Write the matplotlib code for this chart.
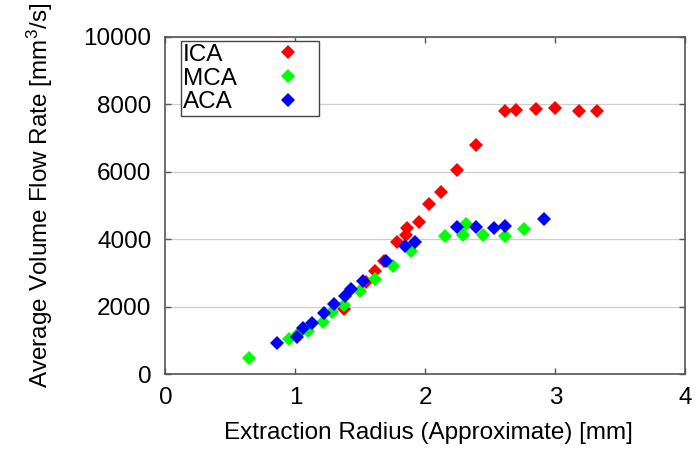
import matplotlib
matplotlib.use("Agg")
import matplotlib.pyplot as plt

plt.rcParams['font.family'] = ['Liberation Sans', 'DejaVu Sans']
plt.rcParams['mathtext.default'] = 'regular'

ica_x = [1.37, 1.54, 1.61, 1.68, 1.78, 1.85, 1.86, 1.95, 2.03, 2.12, 2.24, 2.39, 2.61, 2.70, 2.85, 3.00, 3.18, 3.32]
ica_y = [1950, 2740, 3060, 3360, 3930, 4130, 4340, 4520, 5050, 5410, 6050, 6800, 7810, 7850, 7860, 7880, 7800, 7800]

mca_x = [0.64, 0.95, 1.02, 1.10, 1.21, 1.28, 1.37, 1.50, 1.61, 1.75, 1.89, 2.15, 2.29, 2.31, 2.44, 2.61, 2.76]
mca_y = [490, 1050, 1190, 1280, 1560, 1850, 2050, 2460, 2815, 3210, 3650, 4110, 4130, 4450, 4140, 4110, 4300]

aca_x = [0.86, 1.01, 1.06, 1.13, 1.22, 1.30, 1.38, 1.43, 1.52, 1.70, 1.84, 1.92, 2.24, 2.39, 2.53, 2.61, 2.91]
aca_y = [920, 1100, 1380, 1510, 1810, 2080, 2320, 2520, 2760, 3350, 3790, 3920, 4360, 4360, 4330, 4400, 4600]

x_ticks = [0, 1, 2, 3, 4]
y_ticks = [0, 2000, 4000, 6000, 8000, 10000]

FS = 17.5
DPI = 100

fig = plt.figure(figsize=(6.98, 4.51), dpi=DPI)
ax = fig.add_axes([0.237, 0.170, 0.745, 0.748])

ms = 7
ax.plot(ica_x, ica_y, ls='none', marker='D', ms=ms, mew=0, color='#ff0000', label='ICA', zorder=3)
ax.plot(mca_x, mca_y, ls='none', marker='D', ms=ms, mew=0, color='#00ff00', label='MCA', zorder=3)
ax.plot(aca_x, aca_y, ls='none', marker='D', ms=ms, mew=0, color='#0000ff', label='ACA', zorder=3)

ax.set_xlim(0, 4)
ax.set_ylim(0, 10000)
ax.set_xticks(x_ticks)
ax.set_yticks(y_ticks)
ax.yaxis.grid(True, color='#cfcfcf', lw=0.9)
ax.set_axisbelow(True)
ax.tick_params(direction='in', top=True, right=True, length=4, width=1, color='#555555',
               labelsize=FS)
ax.tick_params(axis='x', pad=9)
ax.tick_params(axis='y', pad=10)
for s in ax.spines.values():
    s.set_color('#555555')
    s.set_linewidth(1.2)

ax.set_xlabel('Extraction Radius (Approximate) [mm]', fontsize=FS)
ax.set_ylabel('Average Volume Flow Rate [mm$^3$/s]', fontsize=FS)
ax.xaxis.set_label_coords(0.505, -0.14)
ax.yaxis.set_label_coords(-0.212, 0.53)

base_sep = 0.9
leg = ax.legend(loc='upper left', bbox_to_anchor=(0.0296, 0.9876), markerfirst=False,
                fontsize=FS, frameon=True, fancybox=False, handlelength=2.38,
                handletextpad=base_sep, borderpad=0.1, labelspacing=0.08, borderaxespad=0,
                handleheight=0.6)
leg.get_frame().set_edgecolor('#444444')
leg.get_frame().set_linewidth(1.0)
leg.get_frame().set_alpha(1)

# left-align legend texts while keeping markers in one column
fig.canvas.draw()
renderer = fig.canvas.get_renderer()
for col in leg._legend_handle_box.get_children():
    rows = col.get_children()
    widths = [row.get_children()[0].get_bbox(renderer).width * 72.0 / DPI for row in rows]
    wmax = max(widths)
    for row, w in zip(rows, widths):
        row.sep = base_sep * FS + (wmax - w)
    col.align = 'left'

fig.savefig('out.png', dpi=DPI)
